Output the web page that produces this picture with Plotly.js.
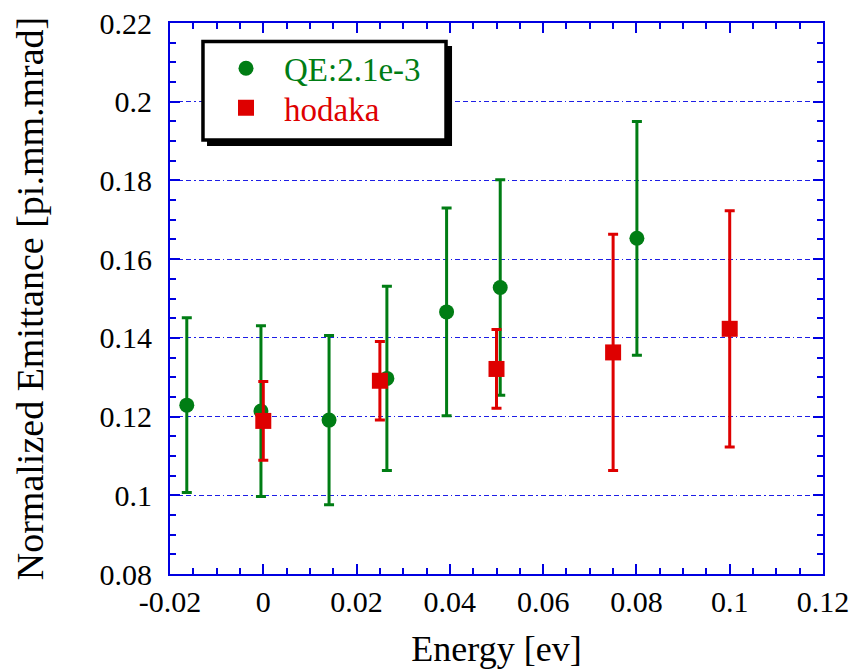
<!DOCTYPE html>
<html>
<head>
<meta charset="utf-8">
<script src="https://cdn.plot.ly/plotly-3.0.1.min.js"></script>
<style>html,body{margin:0;padding:0;background:#fff;}#chart{width:854px;height:672px;}</style>
</head>
<body>
<div id="chart"></div>
<script>
// Data
const greenName = 'QE:2.1e-3';
const greenX = [-0.0164, -0.0005, 0.0141, 0.0265, 0.0393, 0.0508, 0.0801];
const greenY = [0.1229, 0.1214, 0.1191, 0.1297, 0.1466, 0.1528, 0.1653];
const greenErr = [0.0222, 0.0217, 0.0215, 0.0234, 0.0264, 0.0274, 0.0297];

const redName = 'hodaka';
const redX = [0.0, 0.025, 0.05, 0.075, 0.1];
const redY = [0.1189, 0.1291, 0.1321, 0.1363, 0.1423];
const redErr = [0.0100, 0.0100, 0.0100, 0.0300, 0.0300];

const xTickVals = [-0.02, 0, 0.02, 0.04, 0.06, 0.08, 0.1, 0.12];
const xTickText = ['-0.02', '0', '0.02', '0.04', '0.06', '0.08', '0.1', '0.12'];
const yTickVals = [0.08, 0.1, 0.12, 0.14, 0.16, 0.18, 0.2, 0.22];
const yTickText = ['0.08', '0.1', '0.12', '0.14', '0.16', '0.18', '0.2', '0.22'];

const FONT = 'Liberation Serif, Times New Roman, serif';
const GREEN = 'rgb(0,125,20)';
const RED = 'rgb(222,0,0)';
const BLUE = 'rgb(0,0,225)';

const traces = [
  {
    type: 'scatter', mode: 'markers', name: greenName, legend: 'legend',
    x: greenX, y: greenY,
    error_y: {type: 'data', array: greenErr, visible: true, color: GREEN, thickness: 3, width: 5},
    marker: {symbol: 'circle', size: 15, color: GREEN}
  },
  {
    type: 'scatter', mode: 'markers', name: redName, legend: 'legend2',
    x: redX, y: redY,
    error_y: {type: 'data', array: redErr, visible: true, color: RED, thickness: 3, width: 5},
    marker: {symbol: 'square', size: 16, color: RED}
  }
];

function makeAxis(extra) {
  return Object.assign({
    showline: true, linecolor: BLUE, linewidth: 2, mirror: 'ticks',
    ticks: 'inside', ticklen: 10, tickwidth: 2, tickcolor: BLUE,
    tickfont: {family: FONT, size: 30, color: '#000'},
    zeroline: false, tickmode: 'array'
  }, extra);
}

const layout = {
  width: 854, height: 672,
  margin: {l: 170, r: 31, t: 23, b: 98},
  paper_bgcolor: '#fff', plot_bgcolor: '#fff',
  font: {family: FONT, color: '#000'},
  xaxis: makeAxis({
    range: [-0.02, 0.12], tickvals: xTickVals, ticktext: xTickText,
    showgrid: false, ticklabelstandoff: 0,
    minor: {tickmode: 'linear', tick0: -0.02, dtick: 0.005, ticks: 'inside', ticklen: 6, tickwidth: 2, tickcolor: BLUE, showgrid: false},
    title: {text: 'Energy [ev]', font: {family: FONT, size: 36, color: '#000'}, standoff: 19}
  }),
  yaxis: makeAxis({
    range: [0.08, 0.22], tickvals: yTickVals, ticktext: yTickText,
    showgrid: true, gridcolor: 'rgb(30,30,230)', gridwidth: 1.2,
    griddash: '5px,3px,5px,3px,5px,3px,1.5px,3px',
    ticklabelstandoff: 10,
    minor: {tickmode: 'linear', tick0: 0.08, dtick: 0.005, ticks: 'inside', ticklen: 6, tickwidth: 2, tickcolor: BLUE, showgrid: false},
    title: {text: 'Normalized Emittance [pi.mm.mrad]', font: {family: FONT, size: 38, color: '#000'}, standoff: 44}
  }),
  showlegend: true,
  legend: {
    x: 0.0582, y: 0.9178, xanchor: 'left', yanchor: 'middle',
    bgcolor: 'rgba(0,0,0,0)', borderwidth: 0, itemwidth: 66,
    font: {family: FONT, size: 33, color: GREEN}
  },
  legend2: {
    x: 0.0582, y: 0.8463, xanchor: 'left', yanchor: 'middle',
    bgcolor: 'rgba(0,0,0,0)', borderwidth: 0, itemwidth: 66,
    font: {family: FONT, size: 33, color: RED}
  },
  shapes: [
    {type: 'rect', xref: 'paper', yref: 'paper', x0: 0.0567, x1: 0.4319, y0: 0.7768, y1: 0.9583,
     fillcolor: '#000', line: {width: 0}, layer: 'above'},
    {type: 'rect', xref: 'paper', yref: 'paper', x0: 0.0505, x1: 0.4227, y0: 0.7877, y1: 0.9664,
     fillcolor: '#fff', line: {color: '#000', width: 3.5}, layer: 'above'}
  ]
};

Plotly.newPlot('chart', traces, layout, {displayModeBar: false, staticPlot: true});
</script>
</body>
</html>
